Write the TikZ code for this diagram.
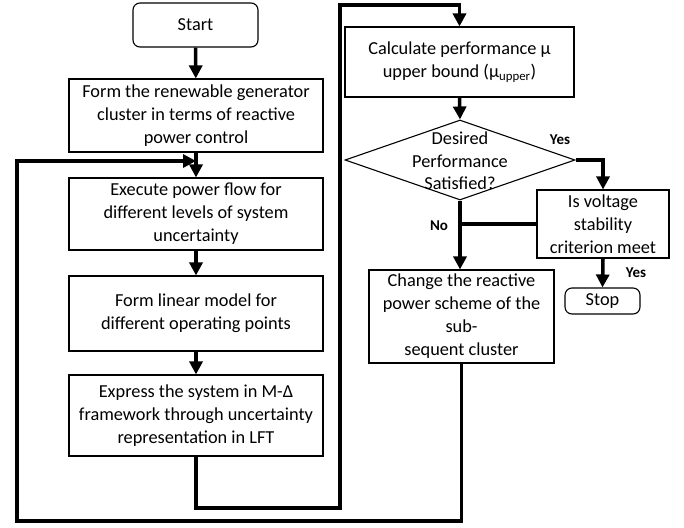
\documentclass[tikz,border=0pt]{standalone}
\usepackage{fontspec}
\setmainfont{Carlito}
\usetikzlibrary{arrows.meta,shapes.geometric}
\begin{document}
\begin{tikzpicture}[x=1pt,y=-1pt,
  box/.style={draw, line width=1.1pt, inner sep=0pt, align=center, font=\fontsize{18.3}{23}\selectfont},
  rbox/.style={box, rounded corners=7pt},
  txt/.style={inner sep=0pt, align=center, font=\fontsize{18.3}{22.5}\selectfont},
  lab/.style={inner sep=0pt, font=\bfseries\fontsize{15}{17}\selectfont},
  arr/.style={line width=3.5pt, -{Triangle[width=13pt,length=13pt]}},
  ln/.style={line width=3.5pt}]
\useasboundingbox (0,0) rectangle (684,527);
\node[rbox, minimum width=125pt, minimum height=44pt] (start) at (195.5,25) {Start};
\node[box, minimum width=254pt, minimum height=73pt] (b1) at (196,115.5) {Form the renewable generator\\cluster in terms of reactive\\power control};
\node[box, minimum width=254pt, minimum height=72pt] (b2) at (196,214) {Execute power flow for\\different levels of system\\uncertainty};
\node[box, minimum width=254pt, minimum height=75pt] (b3) at (196,313.5) {Form linear model for\\different operating points};
\node[box, minimum width=254pt, minimum height=81pt] (b4) at (196,415.5) {Express the system in M-Δ\\framework through uncertainty\\representation in LFT};
\node[box, minimum width=229pt, minimum height=70pt] (calc) at (459.5,62) {Calculate performance μ\\upper bound (μ\textsubscript{upper})};
\node[diamond, draw, line width=1.1pt, inner sep=0pt, minimum width=230pt, minimum height=80pt] (dia) at (460,160) {};
\node[txt] (diat) at (460,161) {Desired\\Performance\\Satisfied?};
\node[box, minimum width=132pt, minimum height=68pt] (iv) at (603,224) {Is voltage\\stability\\criterion meet};
\node[box, minimum width=185pt, minimum height=93pt] (chg) at (461.5,316.5) {Change the reactive\\power scheme of the\\sub-\\sequent cluster};
\node[rbox, minimum width=75pt, minimum height=26pt] (stop) at (602.5,301) {Stop};
\node[lab] (yes1) at (560,140) {Yes};
\node[lab] (no) at (439,226) {No};
\node[lab] (yes2) at (636,273) {Yes};
\coordinate (r1) at (340,508);
\coordinate (r2) at (340,5);
\coordinate (l1) at (17,521);
\coordinate (l2) at (17,161);
\draw[arr] (start) -- (b1);
\draw[arr] (b1) -- (b2);
\draw[arr] (b2) -- (b3);
\draw[arr] (b3) -- (b4);
\draw[arr] (b4.south) |- (r1) -- (r2) -| (calc.north);
\draw[arr] (calc.south) -- (dia.north);
\draw[arr] (dia.east) -| (iv.north);
\draw[ln] (iv.west) -- (iv.west -| dia.south);
\draw[arr] (dia.south) -- (dia.south |- chg.north);
\draw[arr] (iv.south) -- (stop.north);
\draw[arr] (chg.south) |- (l1) -- (l2) -- (l2 -| b1.south);
\end{tikzpicture}
\end{document}
